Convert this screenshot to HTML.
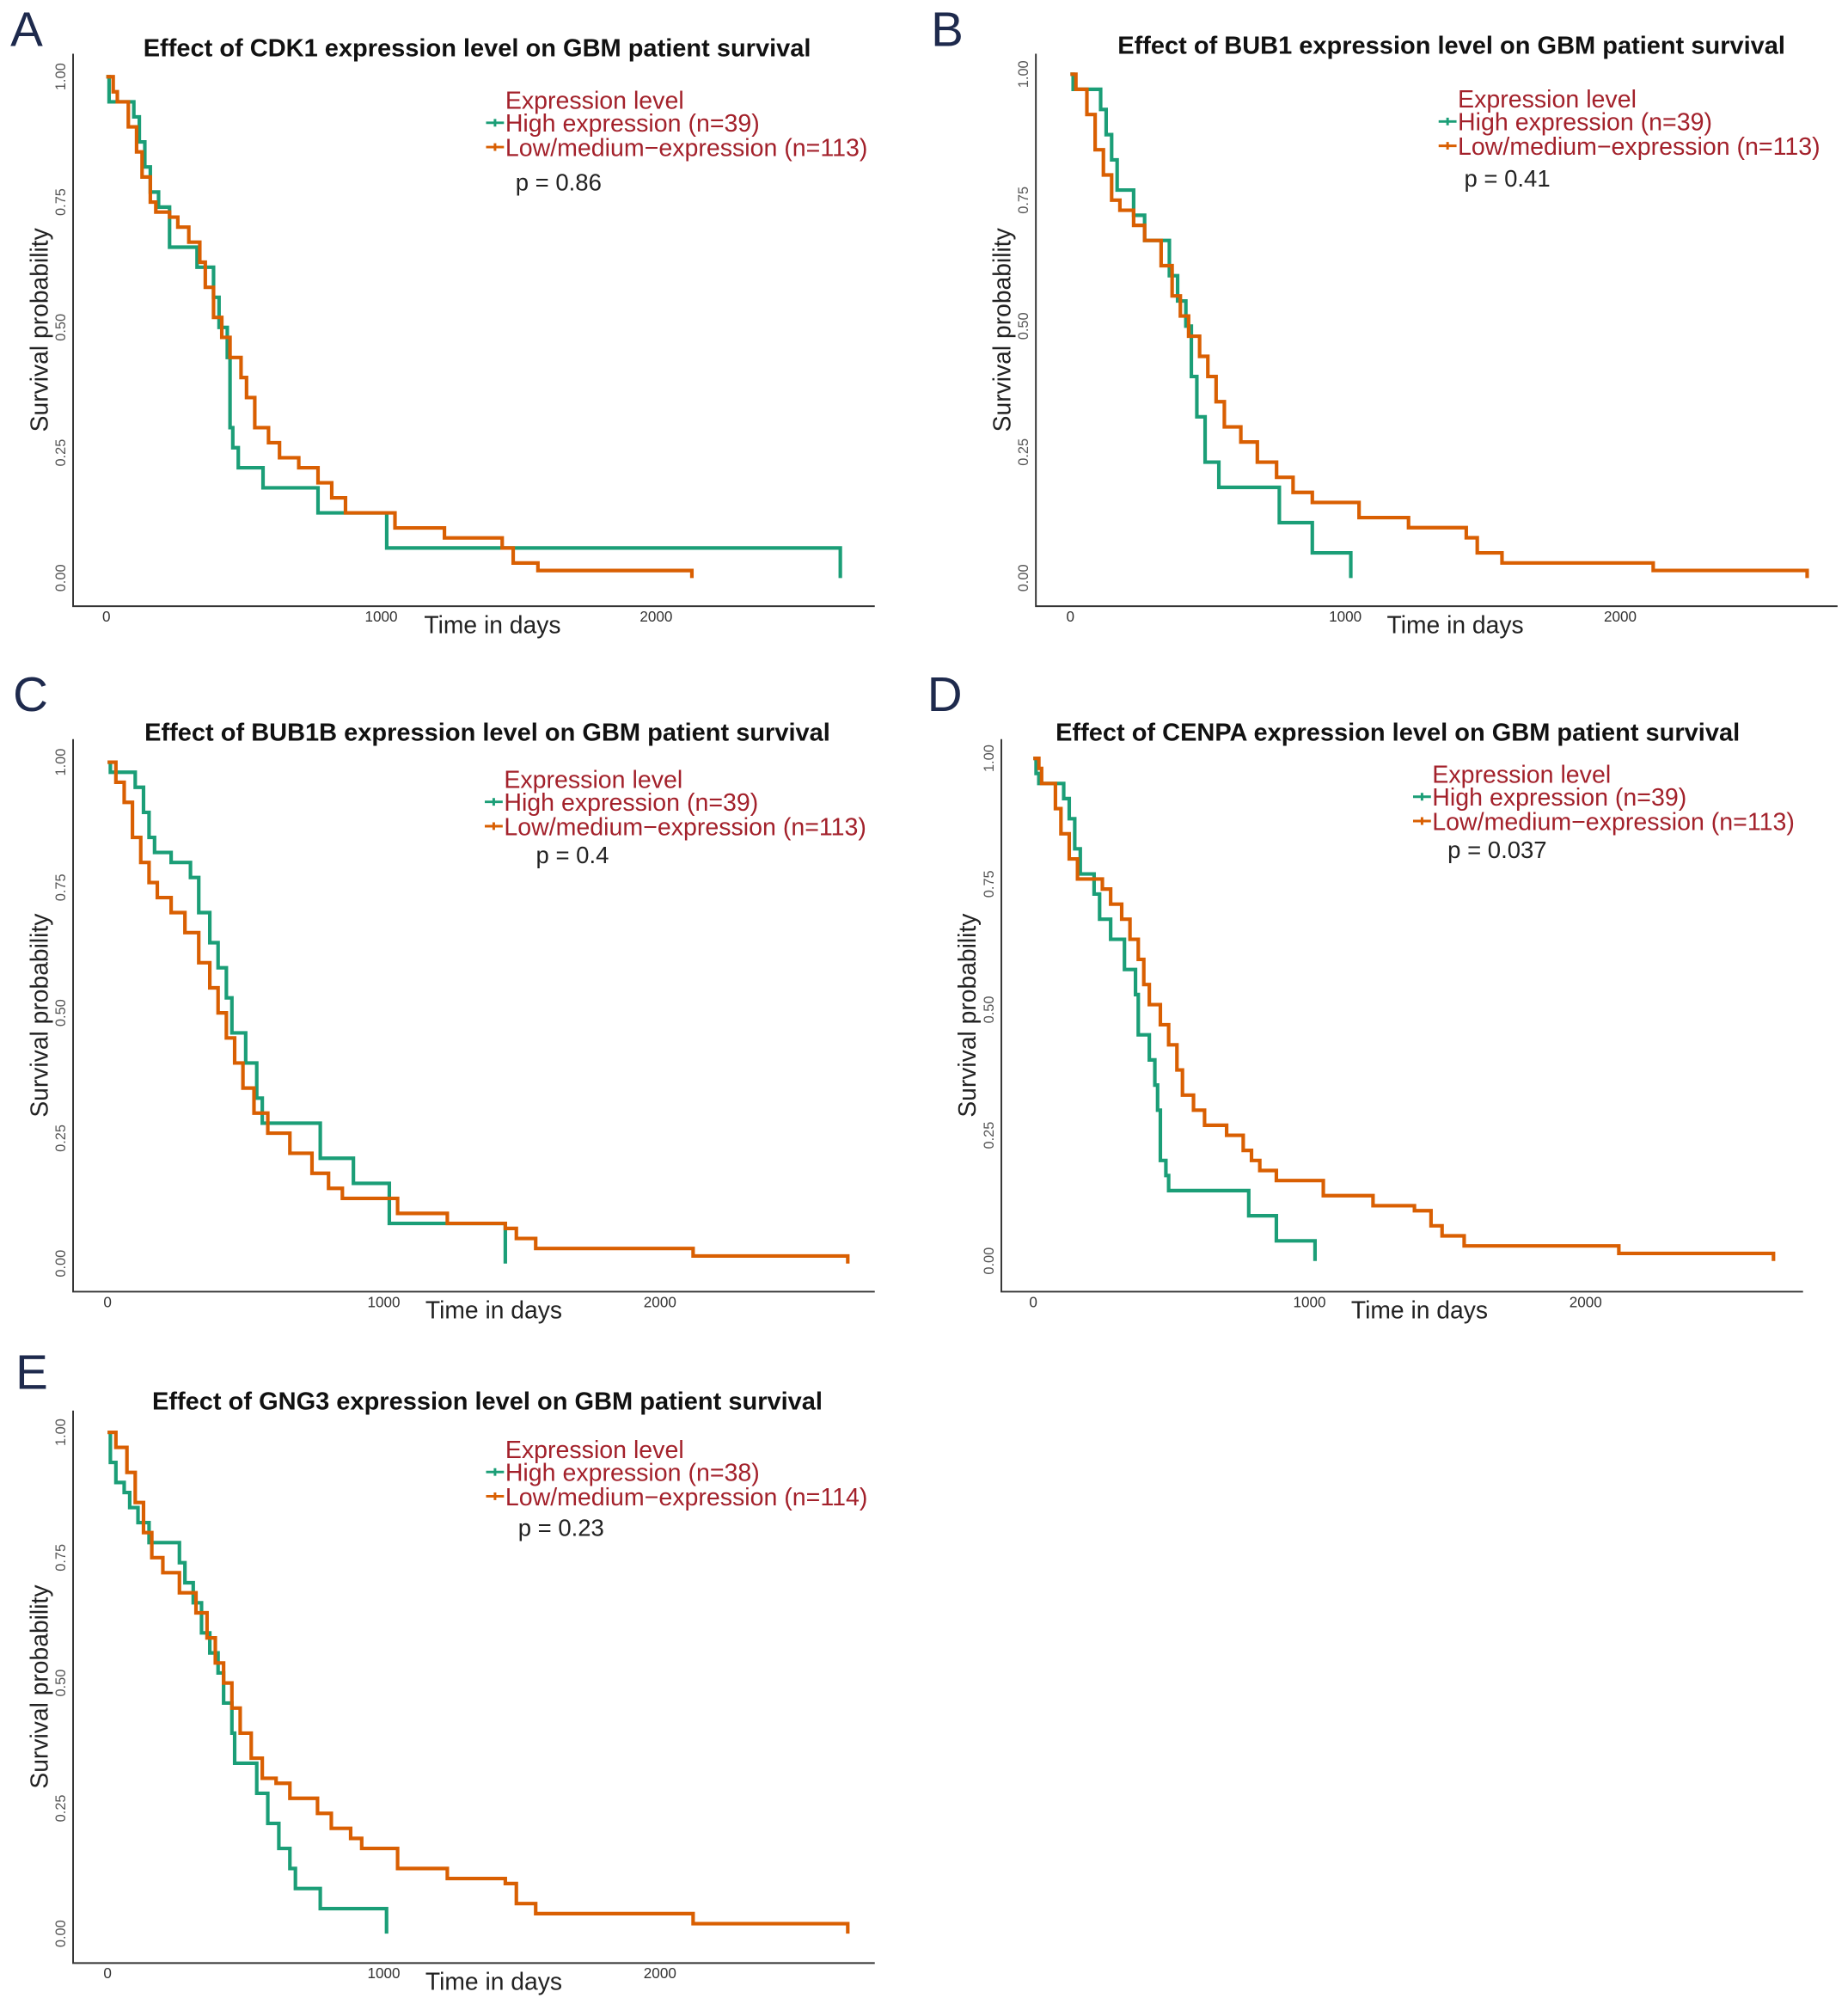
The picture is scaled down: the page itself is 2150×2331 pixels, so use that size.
<!DOCTYPE html>
<html><head><meta charset="utf-8"><style>
html,body{margin:0;padding:0;background:#fff}
svg{display:block}
text{font-family:"Liberation Sans",sans-serif}
</style></head><body>
<svg id="fig" width="2150" height="2331" viewBox="0 0 1445 1567" xmlns="http://www.w3.org/2000/svg"></svg>
<script>
// ---- data (time in days, survival probability after each step) ----
const aHighT=[0,10,100,120,140,160,190,230,330,390,410,440,450,460,480,570,770,1020,2670];
const aHighS=[1,0.95,0.92,0.87,0.82,0.77,0.74,0.66,0.62,0.56,0.5,0.44,0.3,0.26,0.22,0.18,0.13,0.06,0];
const aLowT=[0,25,40,80,110,130,160,180,230,260,300,340,360,390,420,450,490,510,540,590,630,700,770,820,870,1050,1230,1440,1480,1570,2130];
const aLowS=[1,0.97,0.95,0.9,0.85,0.8,0.75,0.73,0.72,0.7,0.67,0.63,0.58,0.52,0.48,0.44,0.4,0.36,0.3,0.27,0.24,0.22,0.19,0.16,0.13,0.1,0.08,0.06,0.03,0.015,0];
const bHighT=[0,10,110,130,150,170,230,270,360,390,420,440,460,490,540,760,880,1020];
const bHighS=[1,0.97,0.93,0.88,0.83,0.77,0.72,0.67,0.6,0.55,0.5,0.4,0.32,0.23,0.18,0.11,0.05,0];
const bLowT=[0,20,60,90,120,150,180,230,270,330,370,400,430,470,500,530,560,620,680,750,810,880,1050,1230,1440,1480,1570,2120,2680];
const bLowS=[1,0.97,0.92,0.85,0.8,0.75,0.73,0.7,0.67,0.62,0.56,0.52,0.48,0.44,0.4,0.35,0.3,0.27,0.23,0.2,0.17,0.15,0.12,0.1,0.08,0.05,0.03,0.015,0];
const cHighT=[0,10,100,130,150,170,230,300,330,370,400,430,450,500,540,560,770,890,1020,1440];
const cHighS=[1,0.98,0.95,0.9,0.85,0.82,0.8,0.77,0.7,0.64,0.59,0.53,0.46,0.4,0.33,0.28,0.21,0.16,0.08,0];
const cLowT=[0,30,60,90,120,150,180,230,280,330,370,400,430,460,490,530,580,660,740,800,850,1050,1230,1440,1480,1550,2120,2680];
const cLowS=[1,0.96,0.92,0.85,0.8,0.76,0.73,0.7,0.66,0.6,0.55,0.5,0.45,0.4,0.35,0.3,0.26,0.22,0.18,0.15,0.13,0.1,0.08,0.07,0.05,0.03,0.015,0];
const dHighT=[0,10,20,110,130,150,170,220,240,280,330,370,380,420,440,450,460,480,490,780,880,1020];
const dHighS=[1,0.97,0.95,0.92,0.88,0.82,0.77,0.73,0.68,0.64,0.58,0.53,0.45,0.4,0.35,0.3,0.2,0.17,0.14,0.09,0.04,0];
const dLowT=[0,20,30,80,100,130,160,250,280,320,350,380,400,420,460,490,520,540,580,620,700,760,790,820,880,1050,1230,1380,1440,1480,1560,2120,2680];
const dLowS=[1,0.98,0.95,0.9,0.85,0.8,0.76,0.74,0.71,0.68,0.64,0.6,0.55,0.51,0.47,0.43,0.38,0.33,0.3,0.27,0.25,0.22,0.2,0.18,0.16,0.13,0.11,0.1,0.07,0.05,0.03,0.015,0];
const eHighT=[0,10,30,60,80,110,150,260,280,310,340,370,400,420,450,460,540,580,620,660,680,770,1010];
const eHighS=[1,0.94,0.9,0.88,0.85,0.82,0.78,0.74,0.7,0.66,0.6,0.56,0.52,0.46,0.4,0.34,0.28,0.22,0.17,0.13,0.09,0.05,0];
const eLowT=[0,30,70,100,130,160,200,260,320,360,390,420,450,480,520,560,610,660,760,810,880,920,1050,1230,1440,1480,1550,2120,2680];
const eLowS=[1,0.97,0.92,0.86,0.8,0.75,0.72,0.68,0.64,0.59,0.54,0.5,0.45,0.4,0.35,0.31,0.3,0.27,0.24,0.21,0.19,0.17,0.13,0.11,0.1,0.06,0.04,0.02,0];
const xTicks=[0,1000,2000];
const yTicks=[0,0.25,0.5,0.75,1];
const yTickLabels=["0.00","0.25","0.50","0.75","1.00"];

const panels=[
 {id:"a",letter:"A",lx:8,ly:36,gene:"CDK1",ax0:57,top:42,bot:474,right:684,x0:83,k:215,y1:60,y0:452,tx:373,ty:44,legx:395,legy:78,px:403,py:143,p:"p = 0.86",nh:39,nl:113,hT:aHighT,hS:aHighS,lT:aLowT,lS:aLowS,xl:385},
 {id:"b",letter:"B",lx:728,ly:36,gene:"BUB1",ax0:810,top:42,bot:474,right:1437,x0:837,k:215,y1:58,y0:452,tx:1135,ty:42,legx:1140,legy:77,px:1145,py:140,p:"p = 0.41",nh:39,nl:113,hT:bHighT,hS:bHighS,lT:bLowT,lS:bLowS,xl:1138},
 {id:"c",letter:"C",lx:10,ly:556,gene:"BUB1B",ax0:57,top:578,bot:1010,right:684,x0:84,k:216,y1:596,y0:988,tx:381,ty:579,legx:394,legy:609,px:419,py:669,p:"p = 0.4",nh:39,nl:113,hT:cHighT,hS:cHighS,lT:cLowT,lS:cLowS,xl:386},
 {id:"d",letter:"D",lx:725,ly:556,gene:"CENPA",ax0:783,top:578,bot:1010,right:1410,x0:808,k:216,y1:593,y0:986,tx:1093,ty:579,legx:1120,legy:605,px:1132,py:665,p:"p = 0.037",nh:39,nl:113,hT:dHighT,hS:dHighS,lT:dLowT,lS:dLowS,xl:1110},
 {id:"e",letter:"E",lx:12,ly:1086,gene:"GNG3",ax0:57,top:1103,bot:1535,right:684,x0:84,k:216,y1:1120,y0:1512,tx:381,ty:1102,legx:395,legy:1133,px:405,py:1195,p:"p = 0.23",nh:38,nl:114,hT:eHighT,hS:eHighS,lT:eLowT,lS:eLowS,xl:386}
];
const NS="http://www.w3.org/2000/svg";
const svg=document.getElementById('fig');
function mk(tag,attrs,parent,txt){const e=document.createElementNS(NS,tag);for(const k in attrs)e.setAttribute(k,attrs[k]);if(txt!==undefined)e.textContent=txt;parent.appendChild(e);return e;}
const GREEN="#1b9e77",ORANGE="#d95f02",LEG="#a3212b";
panels.forEach(P=>{
 const g=mk('g',{},svg);
 
 
 const xs=t=>P.x0+t/1000*P.k;
 const ys=s=>P.y0-s*(P.y0-P.y1);
 let e;
 e=mk('text',{x:P.lx,y:P.ly,'font-size':38,fill:'#1e2a4d'},g,P.letter);
 
 e=mk('text',{x:P.tx,y:P.ty,'font-size':19.5,'font-weight':'bold','text-anchor':'middle',fill:'#111'},g,'Effect of '+P.gene+' expression level on GBM patient survival');
 
 e=mk('path',{d:`M${P.ax0} ${P.top}V${P.bot}H${P.right}`,stroke:'#333',fill:'none','stroke-width':1.3},g);
 
 yTicks.forEach((v,i)=>{
  const y=ys(v);
  const t=mk('text',{x:0,y:0,'font-size':11,fill:'#555','text-anchor':'middle',transform:`translate(${P.ax0-6},${y}) rotate(-90)`},g,yTickLabels[i]);
  
 });
 xTicks.forEach(v=>{
  const t=mk('text',{x:xs(v),y:P.bot+12,'font-size':11.5,fill:'#333','text-anchor':'middle'},g,String(v));
  
 });
 e=mk('text',{x:0,y:0,'font-size':19,fill:'#222','text-anchor':'middle',transform:`translate(${P.ax0-20},${(P.top+P.bot)/2}) rotate(-90)`},g,'Survival probability');
 
 e=mk('text',{x:P.xl,y:P.bot+21,'font-size':19,fill:'#222','text-anchor':'middle'},g,'Time in days');
 
 function curve(T,S,col,name){
  let d=`M${xs(T[0])} ${ys(S[0])}`;
  for(let i=1;i<T.length;i++){d+=`H${xs(T[i])}V${ys(S[i])}`;}
  const p=mk('path',{d:d,stroke:col,fill:'none','stroke-width':2.8,'stroke-linejoin':'miter'},g);
  
 }
 curve(P.hT,P.hS,GREEN,'high-expression-curve');
 curve(P.lT,P.lS,ORANGE,'low-expression-curve');
 e=mk('text',{x:P.legx,y:P.legy+7,'font-size':19.2,fill:LEG},g,'Expression level');
 
 [[P.legy+18,GREEN,`High expression (n=${P.nh})`,'legend-entry-high'],[P.legy+37,ORANGE,`Low/medium\u2212expression (n=${P.nl})`,'legend-entry-low']].forEach(L=>{
  const lg=mk('g',{},g);
  
  mk('path',{d:`M${P.legx-15} ${L[0]}h14M${P.legx-8} ${L[0]-3}v6`,stroke:L[1],'stroke-width':2},lg);
  mk('text',{x:P.legx,y:L[0]+7,'font-size':19.2,fill:LEG},lg,L[2]);
 });
 e=mk('text',{x:P.px,y:P.py+6,'font-size':18.5,fill:'#222'},g,P.p);
 
});
</script>
</body></html>
